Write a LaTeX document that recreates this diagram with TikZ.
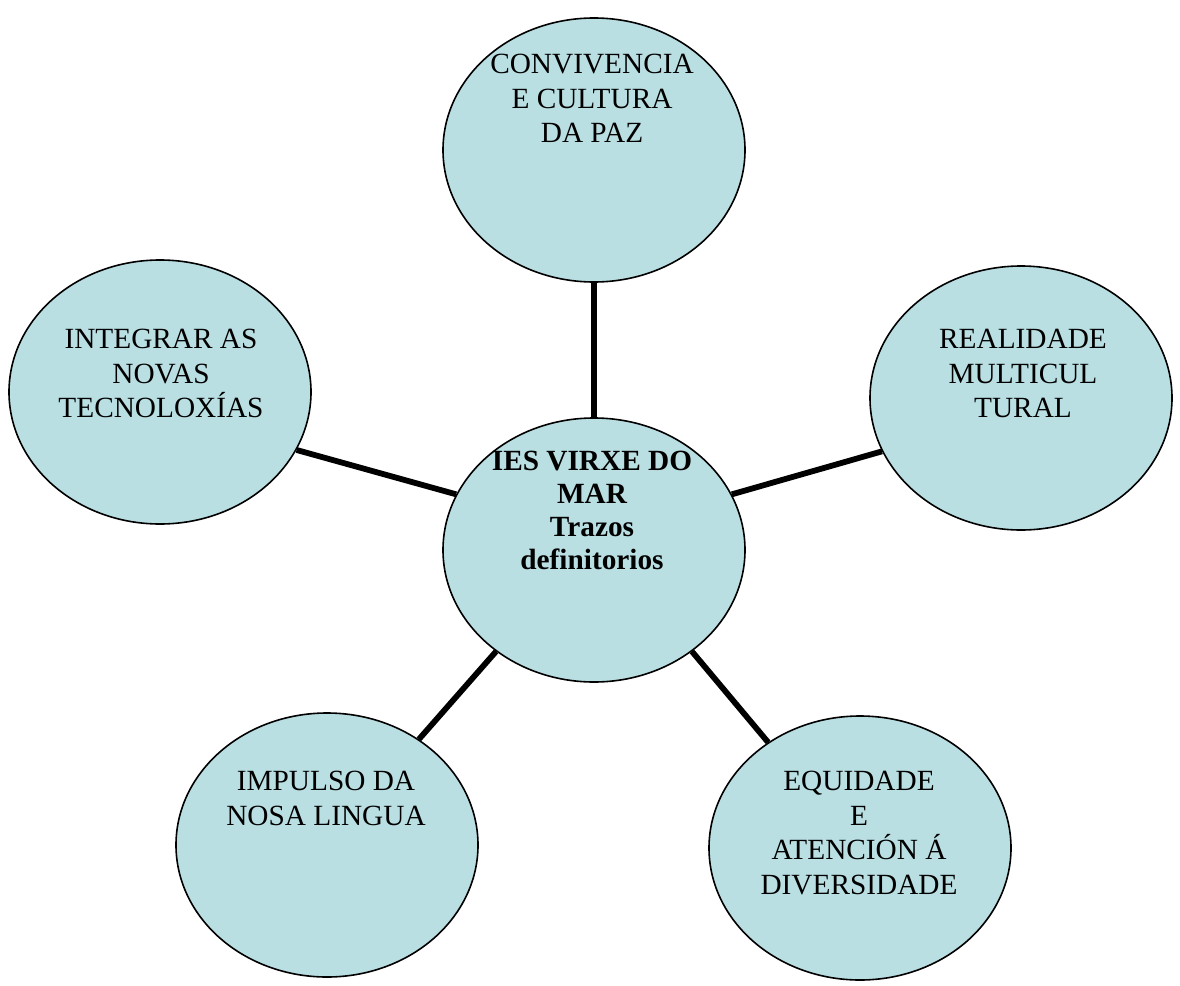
\documentclass[tikz,border=0pt]{standalone}
\usepackage{fontspec}
\setmainfont{Liberation Serif}
\usetikzlibrary{shapes.geometric}
\definecolor{bubblefill}{RGB}{186,223,227}

\begin{document}
\begin{tikzpicture}[x=1pt, y=-1pt]

\useasboundingbox (0,0) rectangle (1180,985);

%% styles for the bubbles and the spokes
\tikzstyle{bubble}=[ellipse, draw=black, line width=1.6pt, fill=bubblefill, minimum width=302pt, minimum height=264pt, inner sep=0pt]
\tikzstyle{spoke}=[line width=5.8pt]
\tikzstyle{caption}=[anchor=north, align=center, inner sep=0pt, font=\fontsize{29.3}{34.5}\selectfont]

% Draw the bubbles
\node[bubble] (hub) at (594,550) {};
\node[bubble] (conv) at (594,150) {};
\node[bubble] (integ) at (160,392) {};
\node[bubble] (multi) at (1021,398) {};
\node[bubble] (lingua) at (327,845) {};
\node[bubble] (equid) at (860,848) {};

% Draw the spokes from the hub
\foreach \dest/\from/\to in {conv/90/-90, integ/158/-23, multi/22/-159, lingua/-134/49, equid/-46/131}{
	\draw[spoke] (hub.\from) -- (\dest.\to);}

% Texts
\node[caption, font=\bfseries\fontsize{29.3}{33}\selectfont] (hub-txt) at (592,451) {IES VIRXE DO\\MAR\\Trazos\\definitorios};
\node[caption] (conv-txt) at (592,54) {CONVIVENCIA\\E CULTURA\\DA PAZ};
\node[caption] (integ-txt) at (161,329) {INTEGRAR AS\\NOVAS\\TECNOLOXÍAS};
\node[caption] (multi-txt) at (1023,329) {REALIDADE\\MULTICUL\\TURAL};
\node[caption] (lingua-txt) at (326,771) {IMPULSO DA\\NOSA LINGUA};
\node[caption] (equid-txt) at (859,771) {EQUIDADE\\E\\ATENCIÓN Á\\DIVERSIDADE};

\end{tikzpicture}
\end{document}
